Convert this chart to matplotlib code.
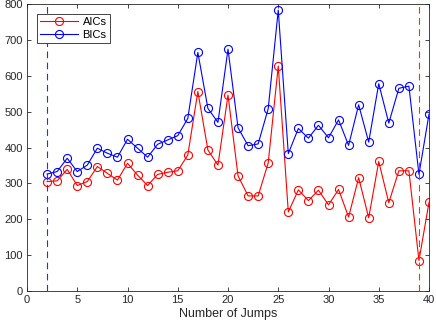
import numpy as np
import matplotlib
matplotlib.use("Agg")
import matplotlib.pyplot as plt

plt.rcParams['font.family'] = ['Liberation Sans', 'DejaVu Sans']

jumps = np.arange(2, 41)
aics = [305, 307, 339, 294, 305, 347, 328, 309, 356, 323, 294, 325, 331, 335, 379,
        556, 393, 351, 546, 321, 265, 265, 357, 627, 220, 282, 252, 281, 240, 283,
        206, 316, 204, 361, 246, 335, 335, 85, 247]
bics = [326, 333, 370, 333, 351, 398, 384, 373, 423, 398, 373, 409, 421, 433, 481,
        665, 509, 470, 674, 455, 405, 410, 508, 783, 383, 453, 426, 462, 427, 477,
        406, 519, 415, 578, 468, 565, 571, 325, 493]
best_bic = 2
best_aic = 39

fig = plt.figure(figsize=(4.36, 3.27), dpi=100)
ax = fig.add_axes([27 / 436, 1 - 291 / 327, 402 / 436, 287 / 327])

ax.plot(jumps, aics, color='#ff0000', lw=0.8, marker='o', ms=5.8, mfc='none',
        mew=0.8, label='AICs')
ax.plot(jumps, bics, color='#0000ff', lw=0.8, marker='o', ms=5.8, mfc='none',
        mew=0.8, label='BICs')
ax.axvline(best_bic, color='#2a2aff', lw=0.8, ls=(0, (6, 4)))
ax.axvline(best_aic, color='#ff2a2a', lw=0.8, ls=(0, (6, 4)))

ax.set_xlim(0, 40)
ax.set_ylim(0, 800)
ax.set_xticks(np.arange(0, 41, 5))
ax.set_yticks(np.arange(0, 801, 100))
ax.set_xlabel('Number of Jumps', fontsize=9, color='#262626', labelpad=2)
ax.tick_params(direction='in', top=True, right=True, labelsize=8, length=3,
               width=0.6, colors='#262626', pad=3)
for s in ax.spines.values():
    s.set_color('#262626')
    s.set_linewidth(0.6)

leg = ax.legend(loc='upper left', fontsize=8, fancybox=False, framealpha=1,
                edgecolor='#262626', borderpad=0.3, handlelength=3.4,
                handletextpad=0.4, labelspacing=0.2, borderaxespad=0.9)
leg.get_frame().set_linewidth(0.6)

fig.savefig('out.png', dpi=100)
